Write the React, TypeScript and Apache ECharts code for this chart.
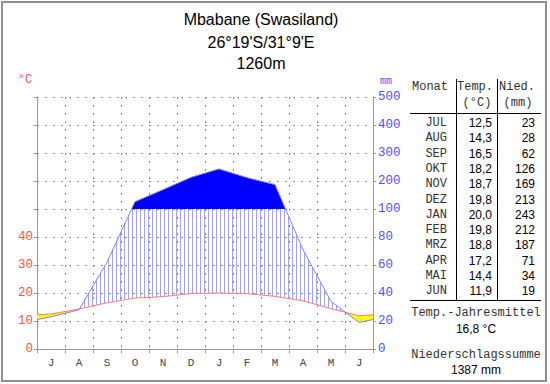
import React, { useEffect, useRef } from 'react';
import * as echarts from 'echarts';

const titleLines = ['Mbabane (Swasiland)', "26°19'S/31°9'E", '1260m'];
const monthNames = ['JUL', 'AUG', 'SEP', 'OKT', 'NOV', 'DEZ', 'JAN', 'FEB', 'MRZ', 'APR', 'MAI', 'JUN'];
const monthInitials = ['J', 'A', 'S', 'O', 'N', 'D', 'J', 'F', 'M', 'A', 'M', 'J'];
const temps = [12.5, 14.3, 16.5, 18.2, 18.7, 19.8, 20.0, 19.8, 18.8, 17.2, 14.4, 11.9];
const precip = [23, 28, 62, 126, 169, 213, 243, 212, 187, 71, 34, 19];
const leftTickLabels = ['0', '10', '20', '30', '40', '', '', '', '', ''];
const rightTickLabels = ['0', '20', '40', '60', '80', '100', '200', '300', '400', '500'];

// precipitation on the temperature scale: 2 mm per °C up to 100 mm, 10 mm per unit above
const scaleP = (p: number) => (p <= 100 ? p / 2 : 50 + (p - 100) / 10);

const fmt = (v: number) => v.toFixed(1).replace('.', ',');

const xs: number[] = [0, ...temps.map((_, i) => i + 0.5), 12];
const tEdge = (temps[0] + temps[11]) / 2;
const pEdge = (scaleP(precip[0]) + scaleP(precip[11])) / 2;
const tExt: number[] = [tEdge, ...temps, tEdge];
const pExt: number[] = [pEdge, ...precip.map(scaleP), pEdge];

const interp = (arr: number[], x: number) => {
  for (let k = 0; k < xs.length - 1; k++) {
    if (x >= xs[k] && x <= xs[k + 1]) {
      const f = (x - xs[k]) / (xs[k + 1] - xs[k]);
      return arr[k] + f * (arr[k + 1] - arr[k]);
    }
  }
  return arr[arr.length - 1];
};

const renderFills = (params: any, api: any) => {
  const children: any[] = [];
  const c = (x: number, y: number) => api.coord([x, y]);
  // hatching (humid period)
  for (let j = 1; j < 84; j++) {
    const x = j / 7;
    const t = interp(tExt, x);
    const p = interp(pExt, x);
    if (p > t) {
      const a = c(x, t);
      const b = c(x, Math.min(p, 50));
      children.push({
        type: 'rect',
        shape: { x: Math.round(a[0]) - 1, y: b[1], width: 1, height: a[1] - b[1] },
        style: { fill: '#a0a0ff', stroke: null },
      });
    }
  }
  // arid (yellow) and very humid (blue) polygons per segment
  for (let k = 0; k < xs.length - 1; k++) {
    const x0 = xs[k], x1 = xs[k + 1];
    const t0 = tExt[k], t1 = tExt[k + 1];
    const p0 = pExt[k], p1 = pExt[k + 1];
    const d0 = p0 - t0, d1 = p1 - t1;
    const cuts = [x0];
    if (d0 * d1 < 0) cuts.push(x0 + (x1 - x0) * (d0 / (d0 - d1)));
    cuts.push(x1);
    for (let s = 0; s < cuts.length - 1; s++) {
      const xa = cuts[s], xb = cuts[s + 1];
      const xm = (xa + xb) / 2;
      if (interp(tExt, xm) > interp(pExt, xm)) {
        children.push({
          type: 'polygon',
          shape: { points: [c(xa, interp(tExt, xa)), c(xb, interp(tExt, xb)), c(xb, interp(pExt, xb)), c(xa, interp(pExt, xa))] },
          style: { fill: '#ffff00', stroke: null },
        });
      }
    }
    const e0 = p0 - 50, e1 = p1 - 50;
    const cuts2 = [x0];
    if (e0 * e1 < 0) cuts2.push(x0 + (x1 - x0) * (e0 / (e0 - e1)));
    cuts2.push(x1);
    for (let s = 0; s < cuts2.length - 1; s++) {
      const xa = cuts2[s], xb = cuts2[s + 1];
      const xm = (xa + xb) / 2;
      if (interp(pExt, xm) > 50) {
        children.push({
          type: 'polygon',
          shape: { points: [c(xa, 50), c(xb, 50), c(xb, interp(pExt, xb)), c(xa, interp(pExt, xa))] },
          style: { fill: '#0000ff', stroke: null },
        });
      }
    }
  }
  return { type: 'group', children };
};

const meanTemp = temps.reduce((a, b) => a + b, 0) / temps.length;
const sumPrecip = precip.reduce((a, b) => a + b, 0);

const MONO = '"Liberation Mono", "DejaVu Sans Mono", monospace';
const SANS = '"Liberation Sans", Arial, sans-serif';

const rowY = (i: number) => 123 + i * 15.3;

const tableGraphics: any[] = [
  { type: 'line', shape: { x1: 456.5, y1: 79, x2: 456.5, y2: 300 }, style: { stroke: '#000', lineWidth: 1 } },
  { type: 'line', shape: { x1: 497.5, y1: 79, x2: 497.5, y2: 300 }, style: { stroke: '#000', lineWidth: 1 } },
  { type: 'line', shape: { x1: 410, y1: 113.5, x2: 541, y2: 113.5 }, style: { stroke: '#000', lineWidth: 1 } },
  { type: 'line', shape: { x1: 410, y1: 300.5, x2: 541, y2: 300.5 }, style: { stroke: '#000', lineWidth: 1 } },
  { type: 'text', x: 430, y: 87, style: { text: 'Monat', font: `12px ${MONO}`, fill: '#333', align: 'center', verticalAlign: 'middle' } },
  { type: 'text', x: 475, y: 87, style: { text: 'Temp.', font: `12px ${MONO}`, fill: '#333', align: 'center', verticalAlign: 'middle' } },
  { type: 'text', x: 477, y: 103, style: { text: '(°C)', font: `12px ${MONO}`, fill: '#333', align: 'center', verticalAlign: 'middle' } },
  { type: 'text', x: 517, y: 87, style: { text: 'Nied.', font: `12px ${MONO}`, fill: '#333', align: 'center', verticalAlign: 'middle' } },
  { type: 'text', x: 518, y: 103, style: { text: '(mm)', font: `12px ${MONO}`, fill: '#333', align: 'center', verticalAlign: 'middle' } },
  ...monthNames.map((m, i) => ({ type: 'text', x: 447, y: rowY(i), style: { text: m, font: `12px ${MONO}`, fill: '#333', align: 'right', verticalAlign: 'middle' } })),
  ...temps.map((t, i) => ({ type: 'text', x: 492, y: rowY(i), style: { text: fmt(t), font: `12px ${SANS}`, fill: '#000', align: 'right', verticalAlign: 'middle' } })),
  ...precip.map((p, i) => ({ type: 'text', x: 535, y: rowY(i), style: { text: String(p), font: `12px ${SANS}`, fill: '#000', align: 'right', verticalAlign: 'middle' } })),
  { type: 'text', x: 476, y: 313, style: { text: 'Temp.-Jahresmittel', font: `12px ${MONO}`, fill: '#333', align: 'center', verticalAlign: 'middle' } },
  { type: 'text', x: 476, y: 329, style: { text: `${fmt(meanTemp)} °C`, font: `12px ${SANS}`, fill: '#000', align: 'center', verticalAlign: 'middle' } },
  { type: 'text', x: 476, y: 355, style: { text: 'Niederschlagssumme', font: `12px ${MONO}`, fill: '#333', align: 'center', verticalAlign: 'middle' } },
  { type: 'text', x: 476, y: 370, style: { text: `${sumPrecip} mm`, font: `12px ${SANS}`, fill: '#000', align: 'center', verticalAlign: 'middle' } },
];

const titleY = [19.5, 42, 63];

const option: any = {
  animation: false,
  backgroundColor: '#fff',
  grid: { left: 37, top: 97, width: 336, height: 252, containLabel: false },
  xAxis: [
    {
      type: 'value', min: 0, max: 12, interval: 1,
      axisLine: { show: true, lineStyle: { color: '#999', width: 1 } },
      axisTick: { show: true, length: 4, inside: false, lineStyle: { color: '#999' } },
      axisLabel: { show: false },
      splitLine: { show: true, lineStyle: { color: '#888', type: [2, 6], width: 1 } },
    },
    {
      type: 'category', data: monthInitials, boundaryGap: true, position: 'bottom',
      axisLine: { show: false }, axisTick: { show: false },
      axisLabel: { color: '#444', fontFamily: MONO, fontSize: 11, margin: 8 },
      splitLine: { show: false },
    },
  ],
  yAxis: [
    {
      type: 'value', min: 0, max: 90, interval: 10, position: 'left',
      axisLine: { show: true, lineStyle: { color: '#999', width: 1 } },
      axisTick: { show: true, length: 3, lineStyle: { color: '#999' } },
      axisLabel: { color: '#ff5050', fontFamily: MONO, fontSize: 12.5, margin: 4, formatter: (v: number) => leftTickLabels[Math.round(v / 10)] },
      splitLine: { show: true, lineStyle: { color: '#888', type: [2, 6], width: 1 } },
    },
    {
      type: 'value', min: 0, max: 90, interval: 10, position: 'right',
      axisLine: { show: true, lineStyle: { color: '#999', width: 1 } },
      axisTick: { show: true, length: 3, lineStyle: { color: '#999' } },
      axisLabel: { color: '#5050ff', fontFamily: MONO, fontSize: 12.5, margin: 5, formatter: (v: number) => rightTickLabels[Math.round(v / 10)] },
      splitLine: { show: false },
    },
  ],
  graphic: [
    { type: 'rect', shape: { x: 2, y: 2, width: 544, height: 379 }, style: { fill: 'none', stroke: '#909090', lineWidth: 2 }, silent: true },
    ...titleLines.map((t, i) => ({ type: 'text', x: 261, y: titleY[i], style: { text: t, font: `16px ${SANS}`, fill: '#000', align: 'center', verticalAlign: 'middle' } })),
    { type: 'text', x: 25, y: 80, style: { text: '°C', font: `12px ${MONO}`, fill: '#ff5050', align: 'center', verticalAlign: 'middle' } },
    { type: 'text', x: 386, y: 81, style: { text: 'mm', font: `10px ${MONO}`, fill: '#5050ff', align: 'center', verticalAlign: 'middle' } },
    ...tableGraphics,
  ],
  series: [
    {
      type: 'custom', xAxisIndex: 0, yAxisIndex: 0, data: [[0, 0]], renderItem: renderFills, silent: true, z: 2, clip: false,
    },
    {
      type: 'line', xAxisIndex: 0, yAxisIndex: 0, symbol: 'none', silent: true, z: 3,
      data: xs.map((x, i) => [x, tExt[i]]),
      lineStyle: { color: '#ff7a7a', width: 1 },
    },
    {
      type: 'line', xAxisIndex: 0, yAxisIndex: 0, symbol: 'none', silent: true, z: 3,
      data: xs.map((x, i) => [x, pExt[i]]),
      lineStyle: { color: '#8080ff', width: 1 },
    },
  ],
};

export default function App() {
  const ref = useRef<HTMLDivElement>(null);
  useEffect(() => {
    if (!ref.current) return;
    const chart = echarts.init(ref.current, null, { renderer: 'svg' });
    chart.setOption(option);
    return () => chart.dispose();
  }, []);
  return <div ref={ref} style={{ position: 'fixed', left: 0, top: 0, width: 550, height: 384, background: '#fff' }} />;
}
